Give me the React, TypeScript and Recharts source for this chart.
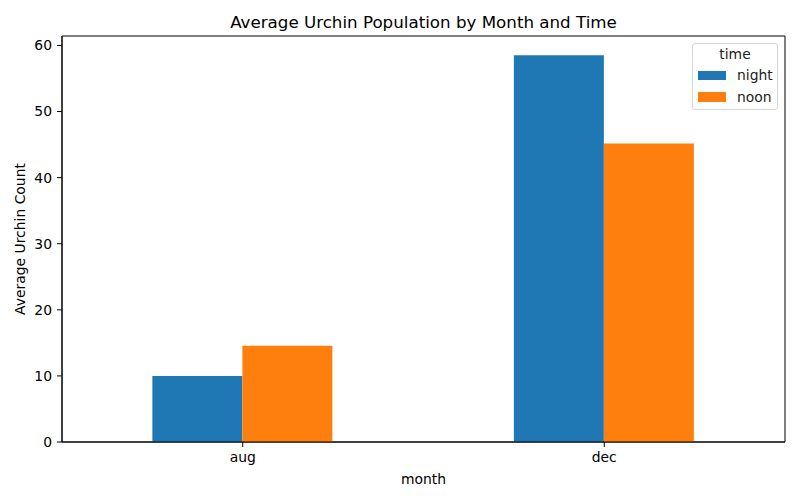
import React from 'react';
import { BarChart, Bar, XAxis, YAxis, Legend, ReferenceArea } from 'recharts';

const months = ['aug', 'dec'];
const nightValues = [10.0, 58.5];
const noonValues = [14.55, 45.15];
const yTicks = [0, 10, 20, 30, 40, 50, 60];
const seriesNames = ['night', 'noon'];
const seriesColors = ['#1f77b4', '#ff7f0e'];
const Y_MAX = 61.43;

const data = months.map((m, i) => ({ month: m, night: nightValues[i], noon: noonValues[i] }));

const FONT = 'DejaVu Sans, sans-serif';

const LegendBox = () => (
  <div
    style={{
      border: '1px solid #d6d6d6',
      borderRadius: 3,
      background: 'rgba(255,255,255,0.8)',
      width: 86,
      height: 67,
      boxSizing: 'border-box',
      fontFamily: FONT,
      fontSize: 13.9,
      color: '#222',
      position: 'relative',
    }}
  >
    <div style={{ position: 'absolute', top: 2, left: 0, width: '100%', textAlign: 'center', lineHeight: '17px' }}>time</div>
    {seriesNames.map((n, i) => (
      <div key={n} style={{ position: 'absolute', left: 5, top: 23 + i * 21.5, display: 'flex', alignItems: 'center', height: 17 }}>
        <span style={{ display: 'inline-block', width: 28, height: 9.5, background: seriesColors[i] }} />
        <span style={{ marginLeft: 11, lineHeight: '17px' }}>{n}</span>
      </div>
    ))}
  </div>
);

export default function App() {
  return (
    <div style={{ position: 'absolute', left: 0, top: 0, width: 800, height: 500, background: '#fff' }}>
      <BarChart
        width={800}
        height={500}
        data={data}
        margin={{ top: 36, right: 15, bottom: 0, left: 0 }}
        barCategoryGap="25%"
        barGap={0}
        style={{ fontFamily: FONT }}
      >
        <text x={423.5} y={22} textAnchor="middle" dominantBaseline="central" fontSize={16.7} fill="#000" fontFamily={FONT}>
          Average Urchin Population by Month and Time
        </text>
        <XAxis
          dataKey="month"
          tickSize={5}
          tickMargin={5}
          axisLine={{ stroke: '#000' }}
          tickLine={{ stroke: '#000' }}
          tick={{ fill: '#000', fontSize: 13.9, fontFamily: FONT }}
          height={58}
          label={{ value: 'month', position: 'insideBottom', offset: 16, fill: '#000', fontSize: 13.9, fontFamily: FONT }}
        />
        <YAxis
          width={62}
          domain={[0, Y_MAX]}
          ticks={yTicks}
          tickSize={5}
          tickMargin={5}
          axisLine={{ stroke: '#000' }}
          tickLine={{ stroke: '#000' }}
          tick={{ fill: '#000', fontSize: 13.9, fontFamily: FONT }}
          label={{ value: 'Average Urchin Count', angle: -90, position: 'center', dx: -11, fill: '#000', fontSize: 13.9, fontFamily: FONT }}
        />
        <Bar dataKey="night" name="night" fill={seriesColors[0]} isAnimationActive={false} />
        <Bar dataKey="noon" name="noon" fill={seriesColors[1]} isAnimationActive={false} />
        <ReferenceArea y1={0} y2={Y_MAX} fill="none" stroke="#000" strokeWidth={1} ifOverflow="visible" />
        <Legend
          layout="vertical"
          align="center"
          verticalAlign="middle"
          content={() => <LegendBox />}
          wrapperStyle={{ position: 'absolute', left: 692, top: 43, width: 86, height: 67 }}
        />
      </BarChart>
    </div>
  );
}
